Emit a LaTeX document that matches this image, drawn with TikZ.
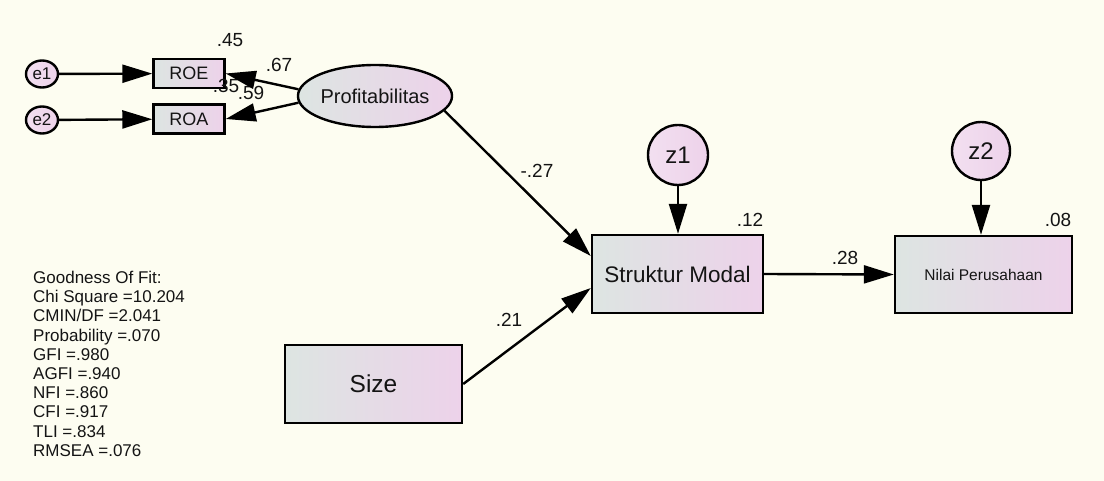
\documentclass[tikz,border=0pt]{standalone}
\usepackage{fontspec}
\setmainfont{Liberation Sans}
\usetikzlibrary{
  arrows.meta,
  shapes.geometric
}
\definecolor{bgcream}{RGB}{253,253,241}
\definecolor{boxleft}{RGB}{221,229,226}
\definecolor{boxright}{RGB}{237,210,234}
\definecolor{txtgray}{RGB}{20,20,20}

\begin{document}
\begin{tikzpicture}[
  x=1pt, y=-1pt,
  every node/.style={inner sep=0pt, text=txtgray},
  obs/.style={
    rectangle, draw=black, line width=2.4pt,
    left color=boxleft, right color=boxright
  },
  lat/.style={
    ellipse, draw=black, line width=2.4pt,
    left color=boxleft, right color=boxright
  },
  err/.style={
    circle, draw=black, line width=2.4pt,
    left color=boxright!70!white, right color=boxright
  },
  path/.style={
    draw=black, line width=2.4pt,
    -{Triangle[length=30pt, width=18pt]}
  },
  coef/.style={font=\fontsize{19}{22}\selectfont}
]
\path[fill=bgcream] (0,0) rectangle (1104,481);

\node[err, ellipse, minimum width=32pt, minimum height=27pt,
  font=\fontsize{17}{20}\selectfont] (e1) at (42,74) {e1};
\node[err, ellipse, minimum width=32pt, minimum height=27pt,
  font=\fontsize{17}{20}\selectfont] (e2) at (42,120) {e2};
\node[obs, minimum width=71pt, minimum height=29pt,
  font=\fontsize{18}{20}\selectfont] (roe) at (189,73.5) {ROE};
\node[obs, minimum width=71pt, minimum height=29pt,
  font=\fontsize{18}{20}\selectfont] (roa) at (189,119) {ROA};
\node[lat, minimum width=145pt, minimum height=62pt,
  font=\fontsize{20}{22}\selectfont] (prof) at (375,96) {Profitabilitas};

\node[err, minimum size=60pt, font=\fontsize{24}{26}\selectfont] (z1) at (678,155) {z1};
\node[err, minimum size=58pt, font=\fontsize{24}{26}\selectfont] (z2) at (981,151) {z2};
\node[obs, minimum width=171pt, minimum height=78pt,
  font=\fontsize{22.5}{26}\selectfont] (sm) at (677.5,274) {Struktur Modal};
\node[obs, minimum width=177pt, minimum height=77pt,
  font=\fontsize{15.5}{18}\selectfont] (nilai) at (983.5,274.5) {Nilai Perusahaan};
\node[obs, minimum width=177pt, minimum height=78pt,
  font=\fontsize{24.5}{28}\selectfont] (size) at (373.5,384) {Size};

\node[coef] (r2roe) at (230,40) {.45};
\node[coef] (r2roa) at (226,86) {.35};
\node[coef] (lroe) at (279,65) {.67};
\node[coef] (lroa) at (251,93) {.59};
\node[coef] (bprof) at (537,171) {-.27};
\node[coef] (bsize) at (509,320) {.21};
\node[coef] (r2sm) at (750,220) {.12};
\node[coef] (r2nilai) at (1058,220) {.08};
\node[coef] (bsm) at (845,258) {.28};

\draw[path] (e1) -- (roe);
\draw[path] (e2) -- (roa);
\draw[path] (prof.175) -- (roe.east);
\draw[path] (prof.185) -- (roa.east);
\draw[path] (prof.-12) -- ([yshift=18pt]sm.west);
\draw[path] (size.east) -- ([yshift=-14pt]sm.west);
\draw[path] (z1.south) -- (z1.south |- sm.north);
\draw[path] (z2.south) -- (z2.south |- nilai.north);
\draw[path] (sm.east) -- (nilai.west);

\node[anchor=north west, align=left, font=\fontsize{17}{19.2}\selectfont]
  (gof) at (33,271) {Goodness Of Fit:\\Chi Square =10.204\\CMIN/DF =2.041\\
  Probability =.070\\GFI =.980\\AGFI =.940\\NFI =.860\\CFI =.917\\TLI =.834\\
  RMSEA =.076};
\end{tikzpicture}
\end{document}
